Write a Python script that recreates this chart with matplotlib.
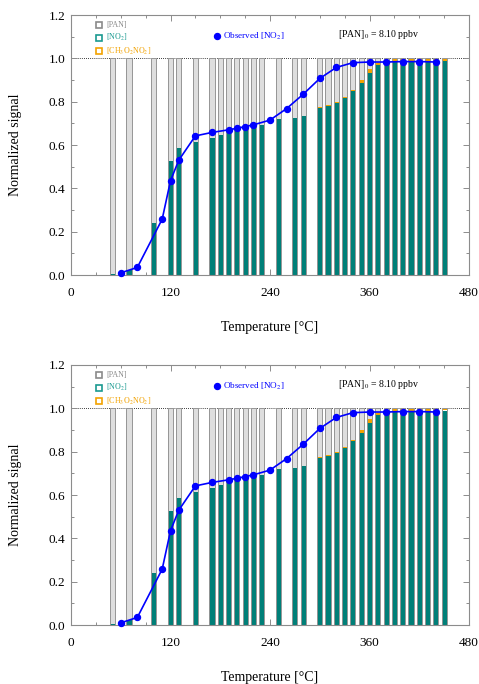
import matplotlib
matplotlib.use("Agg")
import matplotlib.pyplot as plt
from matplotlib.ticker import MultipleLocator, FormatStrFormatter

plt.rcParams['font.family'] = ['Liberation Serif', 'DejaVu Serif']
plt.rcParams['mathtext.fontset'] = 'stix'

# Oven temperatures of the stacked bars [°C]
temps = [50, 70, 100, 120, 130, 150, 170, 180, 190, 200, 210, 220, 230, 250,
         270, 280, 300, 310, 320, 330, 340, 350, 360, 370, 380, 390, 400, 410,
         420, 430, 440, 450]
# Modelled fractions of each species
no2_frac = [0.005, 0.022, 0.238, 0.525, 0.585, 0.613, 0.633, 0.644, 0.659, 0.667,
            0.675, 0.682, 0.694, 0.718, 0.723, 0.732, 0.773, 0.782, 0.796, 0.818,
            0.847, 0.888, 0.932, 0.968, 0.978, 0.985, 0.985, 0.984, 0.985, 0.984,
            0.984, 0.990]
mpn_frac = [0.0, 0.0, 0.0, 0.0, 0.0, 0.0, 0.0, 0.0, 0.0, 0.0,
            0.0, 0.0, 0.0, 0.0, 0.0, 0.0, 0.002, 0.003, 0.004, 0.005,
            0.008, 0.014, 0.017, 0.011, 0.012, 0.012, 0.012, 0.013, 0.012, 0.013,
            0.013, 0.008]
pan_frac = [0.995, 0.978, 0.762, 0.475, 0.415, 0.387, 0.367, 0.356, 0.341, 0.333,
            0.325, 0.318, 0.306, 0.282, 0.277, 0.268, 0.225, 0.215, 0.200, 0.177,
            0.145, 0.098, 0.051, 0.021, 0.010, 0.003, 0.003, 0.003, 0.003, 0.003,
            0.003, 0.002]

# Observed NO2 signal
obs_temps = [60, 80, 110, 120, 130, 150, 170, 190, 200, 210, 220, 240, 260, 280,
             300, 320, 340, 360, 380, 400, 420, 440]
obs_no2 = [0.010, 0.035, 0.258, 0.435, 0.530, 0.642, 0.658, 0.670, 0.677, 0.685,
           0.693, 0.715, 0.768, 0.834, 0.907, 0.958, 0.980, 0.983, 0.983, 0.985,
           0.985, 0.983]

x_ticks = [0, 120, 240, 360, 480]

C_PAN = '#dedede'
C_PAN_EDGE = '#959595'
C_NO2 = '#007f78'
C_MPN = '#f2a200'
C_OBS = '#0000ff'
C_SPINE = '#8c8c8c'

W, H = 479, 684
fig = plt.figure(figsize=(W / 100, H / 100), dpi=100)


def panel(top_px):
    left, right, bottom = 71, 469, top_px + 260
    ax = fig.add_axes([left / W, 1 - bottom / H, (right - left) / W, 260 / H])
    bw = 6.2
    ax.bar(temps, no2_frac, width=bw, color=C_NO2, edgecolor='none', zorder=2)
    mpn_base = no2_frac
    ax.bar(temps, mpn_frac, width=bw, bottom=mpn_base, color=C_MPN,
           edgecolor='none', zorder=2)
    pan_base = [a + b for a, b in zip(no2_frac, mpn_frac)]
    ax.bar(temps, pan_frac, width=bw, bottom=pan_base, color=C_PAN,
           edgecolor='none', zorder=2)
    # thin outline round each full column
    ax.bar(temps, [n + m + p for n, m, p in zip(no2_frac, mpn_frac, pan_frac)],
           width=bw, fill=False, edgecolor=C_PAN_EDGE, linewidth=0.7, zorder=3)

    ax.axhline(1.0, color='black', linestyle=(0, (1, 1.5)), linewidth=0.6, zorder=1)

    ax.plot(obs_temps, obs_no2, color=C_OBS, linewidth=1.2, marker='o',
            markersize=4.3, zorder=5, clip_on=False)

    ax.set_xlim(0, 480)
    ax.set_ylim(0, 1.2)
    ax.set_xticks(x_ticks)
    ax.xaxis.set_minor_locator(MultipleLocator(30))
    ax.yaxis.set_major_locator(MultipleLocator(0.2))
    ax.yaxis.set_minor_locator(MultipleLocator(0.1))
    ax.yaxis.set_major_formatter(FormatStrFormatter('%.1f'))
    ax.tick_params(which='both', direction='in', top=True, right=True,
                   color=C_SPINE, width=0.7)
    ax.tick_params(which='major', length=4.5)
    ax.tick_params(which='minor', length=2.5)
    ax.tick_params(axis='x', labelsize=9.5, pad=9)
    ax.tick_params(axis='y', labelsize=9.5, pad=4)
    for s in ax.spines.values():
        s.set_color(C_SPINE)
        s.set_linewidth(0.8)

    # legend entries
    items = [('[PAN]', '#8a8a8a', 0.962),
             ('[NO$_2$]', '#1a9a90', 0.912),
             ('[CH$_3$O$_2$NO$_2$]', '#f2a200', 0.860)]
    for label, col, yy in items:
        ax.plot([0.070], [yy], transform=ax.transAxes, marker='s', markersize=4,
                markerfacecolor='none', markeredgecolor=col, markeredgewidth=1.2,
                linestyle='none', clip_on=False)
        ax.text(0.089, yy, label, transform=ax.transAxes, fontsize=5.8,
                color=col, va='center', ha='left')

    ax.plot([0.366], [0.918], transform=ax.transAxes, marker='o', markersize=4.3,
            color=C_OBS, linestyle='none', clip_on=False)
    ax.text(0.381, 0.918, 'Observed [NO$_2$]', transform=ax.transAxes,
            fontsize=6.6, color=C_OBS, va='center', ha='left')
    ax.text(0.671, 0.925, '[PAN]$_0$ = 8.10 ppbv', transform=ax.transAxes,
            fontsize=7, color='black', va='center', ha='left')

    fig.text(16 / W, 1 - (top_px + 130) / H, 'Normalized signal', rotation=90,
             fontsize=10, ha='center', va='center')
    fig.text(270 / W, 1 - (top_px + 313) / H, 'Temperature [°C]',
             fontsize=10, ha='center', va='center')
    return ax


panel(15)
panel(365)

fig.savefig('out.png', dpi=100)
